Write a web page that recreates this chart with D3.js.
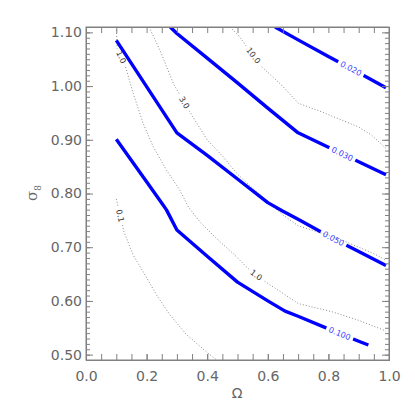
<!DOCTYPE html>
<html lang="en">
<head>
    <meta charset="UTF-8">
    <title>Omega - sigma8 contours</title>
    <style>
        body { margin: 0; background: #fff; }
        .axis path, .axis line { stroke: #808080; }
        .axis text { font-family: "DejaVu Sans", sans-serif; font-size: 14px; fill: #666; }
    </style>
</head>
<body>
    <script src="https://d3js.org/d3.v7.min.js"></script>
    <script>
        // tick labels
        let xTicks = [0.0, 0.2, 0.4, 0.6, 0.8, 1.0];
        let yTicks = [0.50, 0.60, 0.70, 0.80, 0.90, 1.00, 1.10];

        // thick blue contours (levels, Omega and sigma_8 along each line)
        let blueLevels = ["0.020", "0.030", "0.050", "0.100"];
        let blueOmega = [
            [0.624, 0.70, 0.80, 0.90, 0.99],
            [0.278, 0.30, 0.40, 0.50, 0.60, 0.70, 0.80, 0.90, 0.99],
            [0.10, 0.30, 0.40, 0.50, 0.60, 0.65, 0.70, 0.80, 0.90, 0.99],
            [0.10, 0.20, 0.255, 0.266, 0.30, 0.40, 0.50, 0.60, 0.657, 0.70, 0.80, 0.90, 0.932]
        ];
        let blueSigma = [
            [1.11, 1.086, 1.055, 1.025, 0.997],
            [1.11, 1.098, 1.052, 1.006, 0.959, 0.913, 0.886, 0.859, 0.835],
            [1.085, 0.913, 0.871, 0.827, 0.783, 0.767, 0.752, 0.721, 0.692, 0.666],
            [0.901, 0.822, 0.778, 0.769, 0.732, 0.683, 0.635, 0.600, 0.581, 0.5715, 0.548, 0.525, 0.518]
        ];
        let blueLabelAt = [[0.874, 1.033], [0.846, 0.873], [0.817, 0.717], [0.838, 0.540]];

        // thin dotted contours
        let dotLevels = ["0.1", "1.0", "3.0", "10.0"];
        let dotOmega = [
            [0.10, 0.125, 0.156, 0.189, 0.233, 0.277, 0.332, 0.398, 0.431],
            [0.10, 0.103, 0.129, 0.156, 0.189, 0.222, 0.266, 0.310, 0.338, 0.376, 0.431, 0.486, 0.541, 0.591, 0.701, 0.811, 0.899, 0.99],
            [0.208, 0.244, 0.288, 0.30, 0.35, 0.40, 0.45, 0.50, 0.55, 0.60, 0.65, 0.70, 0.75, 0.80, 0.85, 0.90, 0.95, 0.99],
            [0.475, 0.503, 0.580, 0.646, 0.701, 0.778, 0.899, 0.943, 0.99]
        ];
        let dotSigma = [
            [0.79, 0.729, 0.685, 0.654, 0.611, 0.574, 0.537, 0.505, 0.49],
            [1.11, 1.070, 1.039, 0.986, 0.930, 0.887, 0.843, 0.806, 0.775, 0.747, 0.716, 0.688, 0.657, 0.636, 0.595, 0.580, 0.564, 0.544],
            [1.11, 1.067, 1.005, 0.993, 0.945, 0.900, 0.870, 0.836, 0.810, 0.785, 0.760, 0.740, 0.731, 0.722, 0.712, 0.700, 0.688, 0.676],
            [1.11, 1.0945, 1.036, 1.0015, 0.968, 0.952, 0.924, 0.9085, 0.884]
        ];
        let dotLabelAt = [[0.109, 0.758], [0.117, 1.054], [0.323, 0.969], [0.550, 1.056], [0.561, 0.648]];
        // which dotted line each label belongs to
        let dotLabelLine = [0, 1, 2, 3, 1];

        let svgWidth = 415;
        let svgHeight = 415;
        let margin = { top: 27, right: 26, bottom: 55, left: 86 };
        let chartWidth = svgWidth - margin.left - margin.right;
        let chartHeight = svgHeight - margin.top - margin.bottom;

        let svg = d3.select("body")
            .append("svg")
            .attr("width", svgWidth)
            .attr("height", svgHeight);

        let defs = svg.append("defs");
        defs.append("clipPath").attr("id", "plotclip")
            .append("rect")
            .attr("width", chartWidth)
            .attr("height", chartHeight);

        let chartGroup = svg.append("g")
            .attr("transform", `translate(${margin.left}, ${margin.top})`);

        let xScale = d3.scaleLinear().domain([0, 1]).range([0, chartWidth]);
        let yScale = d3.scaleLinear().domain([0.49, 1.11]).range([chartHeight, 0]);

        let line = d3.line().x(d => xScale(d[0])).y(d => yScale(d[1]));

        let lineGroup = chartGroup.append("g").attr("clip-path", "url(#plotclip)");
        let labelGroup = chartGroup.append("g");

        // find the point on a path nearest to a data anchor
        function labelPoint(node, anchor) {
            let L = node.getTotalLength();
            let ax = xScale(anchor[0]), ay = yScale(anchor[1]);
            let best = 0, bestD = Infinity;
            for (let s = 0; s <= L; s += 0.5) {
                let p = node.getPointAtLength(s);
                let d = (p.x - ax) ** 2 + (p.y - ay) ** 2;
                if (d < bestD) { bestD = d; best = s; }
            }
            let p = node.getPointAtLength(best);
            let p1 = node.getPointAtLength(Math.max(0, best - 3));
            let p2 = node.getPointAtLength(Math.min(L, best + 3));
            let ang = Math.atan2(p2.y - p1.y, p2.x - p1.x) * 180 / Math.PI;
            if (ang > 90) ang -= 180;
            if (ang < -90) ang += 180;
            return { x: p.x, y: p.y, ang: ang };
        }

        function addLabel(mask, node, anchor, text, color) {
            let p = labelPoint(node, anchor);
            let tr = `translate(${p.x},${p.y}) rotate(${p.ang})`;
            let t = labelGroup.append("text")
                .attr("transform", tr)
                .attr("text-anchor", "middle")
                .attr("dy", "0.35em")
                .style("font-family", "DejaVu Sans, sans-serif")
                .style("font-size", "8px")
                .attr("fill", color)
                .text(text);
            let w = t.node().getComputedTextLength();
            mask.append("rect")
                .attr("x", -w / 2 - 3)
                .attr("y", -6)
                .attr("width", w + 6)
                .attr("height", 12)
                .attr("transform", tr)
                .attr("fill", "black");
        }

        function newMask(id) {
            let m = defs.append("mask").attr("id", id)
                .attr("maskUnits", "userSpaceOnUse")
                .attr("x", -100).attr("y", -100)
                .attr("width", 600).attr("height", 600);
            m.append("rect")
                .attr("x", -100).attr("y", -100)
                .attr("width", 600).attr("height", 600)
                .attr("fill", "white");
            return m;
        }

        // dotted contours
        let dotNodes = [];
        let dotMasks = [];
        dotLevels.forEach(function(level, i) {
            let pts = dotOmega[i].map((o, k) => [o, dotSigma[i][k]]);
            let m = newMask("dmask" + i);
            let path = lineGroup.append("path")
                .attr("d", line(pts))
                .attr("fill", "none")
                .attr("stroke", "#888")
                .attr("stroke-width", 1)
                .attr("stroke-dasharray", "1,2")
                .attr("mask", `url(#dmask${i})`);
            dotNodes.push(path.node());
            dotMasks.push(m);
        });
        dotLabelAt.forEach(function(a, j) {
            let i = dotLabelLine[j];
            addLabel(dotMasks[i], dotNodes[i], a, dotLevels[i], "#333");
        });

        // blue contours
        blueLevels.forEach(function(level, i) {
            let pts = blueOmega[i].map((o, k) => [o, blueSigma[i][k]]);
            let m = newMask("bmask" + i);
            let path = lineGroup.append("path")
                .attr("d", line(pts))
                .attr("fill", "none")
                .attr("stroke", "#0000ff")
                .attr("stroke-width", 3.4)
                .attr("stroke-linejoin", "round")
                .attr("mask", `url(#bmask${i})`);
            addLabel(m, path.node(), blueLabelAt[i], level, "#3a3aff");
        });

        // axes
        let minorX = d3.range(0, 21).map(i => i * 0.05);
        let minorY = d3.range(49, 112).map(i => i / 100);

        chartGroup.append("g")
            .attr("class", "axis")
            .attr("transform", `translate(0, ${chartHeight})`)
            .call(d3.axisBottom(xScale).tickValues(minorX).tickSizeInner(-6).tickSizeOuter(0).tickFormat(""));
        chartGroup.append("g")
            .attr("class", "axis")
            .attr("transform", `translate(0, ${chartHeight})`)
            .call(d3.axisBottom(xScale).tickValues(xTicks).tickSizeInner(-6).tickSizeOuter(0)
                .tickPadding(11).tickFormat(d3.format(".1f")));
        chartGroup.append("g")
            .attr("class", "axis")
            .call(d3.axisTop(xScale).tickValues(minorX).tickSizeInner(-6).tickSizeOuter(0).tickFormat(""));

        chartGroup.append("g")
            .attr("class", "axis")
            .call(d3.axisLeft(yScale).tickValues(minorY).tickSizeInner(-4).tickSizeOuter(0).tickFormat(""));
        chartGroup.append("g")
            .attr("class", "axis")
            .call(d3.axisLeft(yScale).tickValues(yTicks).tickSizeInner(-7).tickSizeOuter(0)
                .tickPadding(4).tickFormat(d3.format(".2f")));
        chartGroup.append("g")
            .attr("class", "axis")
            .attr("transform", `translate(${chartWidth}, 0)`)
            .call(d3.axisRight(yScale).tickValues(minorY).tickSizeInner(-4).tickSizeOuter(0).tickFormat(""));
        chartGroup.append("g")
            .attr("class", "axis")
            .attr("transform", `translate(${chartWidth}, 0)`)
            .call(d3.axisRight(yScale).tickValues(yTicks).tickSizeInner(-7).tickSizeOuter(0).tickFormat(""));

        // box
        chartGroup.append("rect")
            .attr("width", chartWidth)
            .attr("height", chartHeight)
            .attr("fill", "none")
            .attr("stroke", "#808080");

        // axis titles
        svg.append("text")
            .attr("x", 237)
            .attr("y", 398)
            .attr("text-anchor", "middle")
            .style("font-family", "DejaVu Sans, sans-serif")
            .style("font-size", "14px")
            .attr("fill", "#666")
            .text("Ω");

        let yt = svg.append("text")
            .attr("transform", "translate(37, 201) rotate(-90)")
            .style("font-family", "DejaVu Serif, serif")
            .style("font-size", "15px")
            .attr("fill", "#666");
        yt.append("tspan").text("σ");
        yt.append("tspan").attr("dy", 4).style("font-size", "9px").text("8");
    </script>
</body>
</html>
